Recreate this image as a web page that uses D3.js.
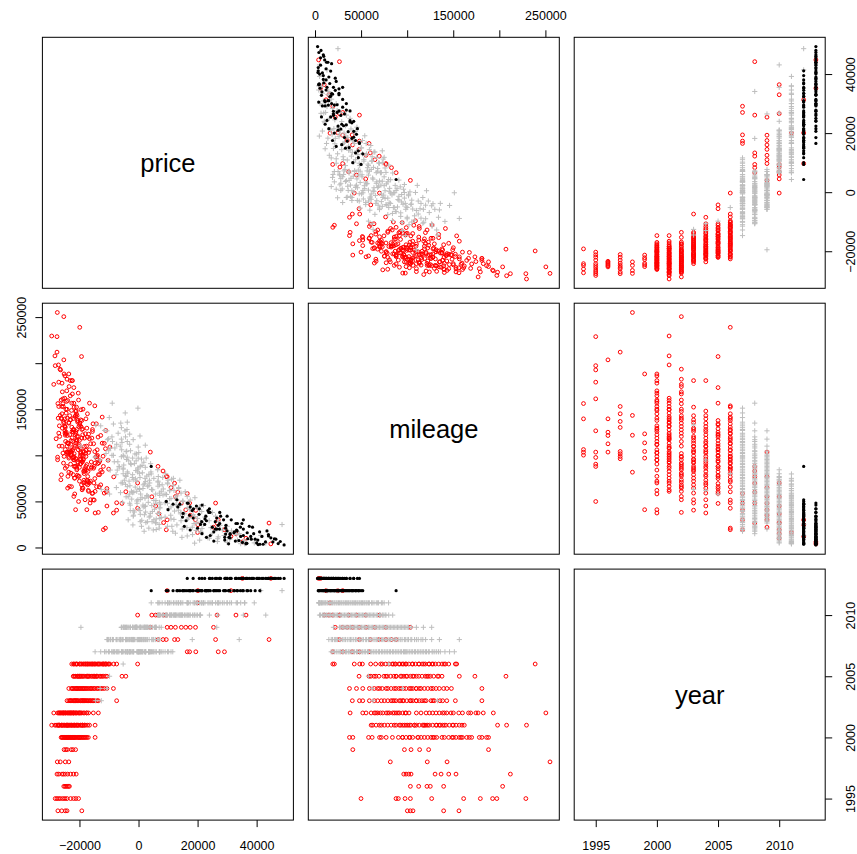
<!DOCTYPE html>
<html>
<head>
<meta charset="utf-8">
<script src="https://cdn.jsdelivr.net/npm/d3@7"></script>
<style>
  body { margin: 0; background: #fff; }
  svg { display: block; font-family: "Liberation Sans", Arial, Helvetica, sans-serif; }
</style>
</head>
<body>
<svg id="chart" width="857" height="854"></svg>
<script>
const vars = ["price", "mileage", "year"];
const priceTicks = [-20000, 0, 20000, 40000];
const mileageTicks = [0, 50000, 100000, 150000, 200000, 250000];
const mileageLabels = [0, 50000, 150000, 250000];
const yearTicks = [1995, 2000, 2005, 2010];

// [year, price, mileage]
const redCars = [
  [1994,-19200,100200],[1994,-24200,103400],[1994,-24800,106300],[1994,-26000,139600],[1994,-27300,156200],
  [1995,-20300,49900],[1995,-21200,87900],[1995,-23000,90400],[1995,-22000,97700],[1995,-24200,103500],[1995,-24900,126600],
  [1995,-25600,161300],[1995,-27000,179400],[1995,-26400,192700],[1995,-28200,197300],[1995,-27600,228800],
  [1996,-23400,103500],[1996,-23700,112500],[1996,-24100,121500],[1996,-24500,125100],[1996,-24900,139600],[1996,-25300,203600],
  [1997,-21100,96300],[1997,-22000,98800],[1997,-24000,101700],[1997,-23000,104200],[1997,-24800,130300],[1997,-25400,136800],
  [1997,-25900,145100],[1997,-27000,153000],[1997,-27600,212000],
  [1998,-27500,255000],[1998,-26500,143300],[1998,-24800,121800],[1998,-23600,81700],
  [1999,-21300,41000],[1999,-22200,97000],[1999,-22800,104200],[1999,-24100,113500],[1999,-24600,123300],[1999,-25200,188300],
  [2000,-14700,37400],[2000,-17500,41000],[2000,-21600,58100],[2000,-18600,70000],[2000,-23900,77200],[2000,-19800,90500],
  [2000,-25200,98800],[2000,-17900,102400],[2000,-22300,106000],[2000,-20100,111500],[2000,-24700,115100],[2000,-19200,118700],
  [2000,-23300,122300],[2000,-21200,125900],[2000,-25800,129500],[2000,-20600,137800],[2000,-24100,140400],[2000,-22700,148700],
  [2000,-18800,150100],[2000,-25500,153000],[2000,-21900,156600],[2000,-24400,158500],[2000,-23100,164600],[2000,-20400,167500],
  [2000,-25900,178300],[2000,-22500,181100],[2000,-24900,186200],[2000,-23600,188300],
  [2000,-19500,95000],[2000,-22900,112000],[2000,-25000,132000],[2000,-18200,84000],[2000,-21000,145000],[2000,-23800,103000],
  [2000,-20000,72000],[2000,-24300,170000],[2000,-22000,128000],[2000,-26200,160000],[2000,-17000,62000],[2000,-21700,95000],
  [2001,-14700,60900],[2001,-19100,62600],[2001,-23400,66300],[2001,-16600,69900],[2001,-21700,75300],[2001,-26100,78900],
  [2001,-18300,82600],[2001,-24300,88000],[2001,-20500,91600],[2001,-27400,95200],[2001,-17800,98800],[2001,-22800,100600],
  [2001,-25600,102400],[2001,-19700,107800],[2001,-23900,113200],[2001,-21100,116800],[2001,-26700,120500],[2001,-18900,122300],
  [2001,-24900,124100],[2001,-22100,127700],[2001,-20200,131300],[2001,-25300,134900],[2001,-23100,138500],[2001,-27200,140300],
  [2001,-21500,142100],[2001,-24500,145800],[2001,-19500,149400],[2001,-26000,153000],[2001,-22600,156600],[2001,-24000,159500],
  [2001,-25000,162000],[2001,-27100,198100],[2001,-28300,207900],[2001,-29400,229500],
  [2001,-17200,72000],[2001,-20900,86000],[2001,-23600,97000],[2001,-25900,110000],[2001,-18400,104000],[2001,-22500,119000],
  [2001,-26800,132000],[2001,-20600,136000],[2001,-24200,150000],[2001,-19000,93000],[2001,-27900,118000],[2001,-21800,108000],
  [2002,-25300,250500],[2002,-26600,193500],[2002,-24200,182600],[2002,-28700,177000],[2002,-23500,174600],[2002,-25800,168900],
  [2002,-22400,166600],[2002,-24600,150100],[2002,-21300,147600],[2002,-26200,140400],[2002,-23000,138500],[2002,-19900,134900],
  [2002,-24900,131300],[2002,-22000,127700],[2002,-27000,124100],[2002,-20800,120500],[2002,-23700,98800],[2002,-18700,95200],
  [2002,-25400,91600],[2002,-21500,88000],[2002,-17600,84300],[2002,-22900,80700],[2002,-20100,77200],[2002,-26300,73500],
  [2002,-19300,68000],[2002,-24000,64400],[2002,-16900,60900],[2002,-21900,55400],[2002,-15300,51800],[2002,-13600,38100],
  [2002,-18300,71000],[2002,-22100,79000],[2002,-24800,86000],[2002,-19600,102000],[2002,-26900,110000],[2002,-21000,115000],
  [2002,-23300,143000],[2002,-17500,90000],[2002,-25600,156000],[2002,-20300,160000],[2002,-27400,98000],[2002,-22700,66000],
  [2003,-23100,181100],[2003,-21800,152300],[2003,-19600,138500],[2003,-23600,135600],[2003,-17500,129500],[2003,-22500,125900],
  [2003,-20400,120500],[2003,-15800,118700],[2003,-21200,113200],[2003,-18300,109600],[2003,-23200,106000],[2003,-16900,103100],
  [2003,-19700,99500],[2003,-22000,95200],[2003,-14700,91600],[2003,-20900,84300],[2003,-18600,82600],[2003,-13600,79000],
  [2003,-21600,75300],[2003,-17200,68000],[2003,-19000,64400],[2003,-15500,59000],[2003,-18100,51800],[2003,-16400,48200],
  [2003,-7400,40500],
  [2003,-17800,88000],[2003,-20600,93000],[2003,-22800,116000],[2003,-15200,86000],[2003,-19200,128000],[2003,-24200,110000],
  [2003,-16300,72000],[2003,-21300,143000],[2003,-14000,96000],[2003,-18800,104000],
  [2004,-22400,181100],[2004,-20800,143100],[2004,-17800,139600],[2004,-23600,134900],[2004,-19500,131300],[2004,-15600,125900],
  [2004,-21400,122300],[2004,-18300,118700],[2004,-12300,113200],[2004,-20100,109600],[2004,-16600,106000],[2004,-22700,102400],
  [2004,-14100,98800],[2004,-19100,93400],[2004,-21800,88000],[2004,-17100,82600],[2004,-13200,79000],[2004,-20400,77200],
  [2004,-15100,70000],[2004,-18800,64400],[2004,-11600,59000],[2004,-16200,51800],[2004,-8500,37400],[2004,-10700,45000],
  [2004,-16000,86000],[2004,-19800,96000],[2004,-22300,115000],[2004,-13800,91000],[2004,-17600,110000],[2004,-20900,128000],
  [2004,-14800,104000],[2004,-18500,73000],[2004,-21100,148000],[2004,-12800,68000],
  [2005,-19300,207200],[2005,-21900,173500],[2005,-16600,156600],[2005,-20600,137800],[2005,-14300,134200],[2005,-18900,128800],
  [2005,-22100,125200],[2005,-12800,121600],[2005,-17300,119800],[2005,-20000,116200],[2005,-15200,112600],[2005,-11200,107200],
  [2005,-19600,103600],[2005,-13900,100000],[2005,-21300,96400],[2005,-16000,92800],[2005,-18200,85600],[2005,-12300,82000],
  [2005,-20700,78400],[2005,-14800,74800],[2005,-17600,69400],[2005,-10700,64000],[2005,-15700,58600],[2005,-5600,47800],
  [2005,-4300,60500],
  [2005,-15000,88000],[2005,-18700,99000],[2005,-21500,110000],[2005,-13100,94000],[2005,-16900,123000],[2005,-19900,133000],
  [2005,-11900,88000],[2005,-17200,77000],[2005,-14200,66000],[2005,-20400,106000],
  [2006,-19900,238900],[2006,-14800,153700],[2006,-21000,152300],[2006,-17300,145100],[2006,-12300,141500],[2006,-19200,137800],
  [2006,-15400,134200],[2006,-22600,130600],[2006,-11100,127000],[2006,-18000,123400],[2006,-13700,119800],[2006,-20800,116200],
  [2006,-16200,112600],[2006,-9700,109000],[2006,-17800,105400],[2006,-21800,101800],[2006,-14500,98200],[2006,-10300,94600],
  [2006,-19500,91000],[2006,-15900,87400],[2006,-12800,83800],[2006,-18400,80200],[2006,-8400,76600],[2006,-16900,71200],
  [2006,-13300,65800],[2006,-10900,60400],[2006,-15000,51400],[2006,-7400,48500],[2006,-300,42600],[2006,-11200,21000],
  [2006,-11900,19300],
  [2006,-14000,106000],[2006,-18700,96000],[2006,-21200,124000],[2006,-12000,99000],[2006,-16600,118000],[2006,-20000,87000],
  [2006,-10100,85000],[2006,-15600,128000],[2006,-13400,92000],[2006,-17400,73000],[2006,-22000,140000],[2006,-11600,113000],
  [2007,29100,19300],[2007,27000,30100],[2007,19400,40300],[2007,17300,48200],[2007,16500,58600],
  [2008,44200,26500],[2008,26100,48200],[2008,13300,60000],[2008,12200,69700],[2008,9400,76900],[2008,8300,83000],[2008,6600,88000],
  [2009,25400,22000],[2009,19300,30000],[2009,17500,35000],[2009,16000,40800],[2009,14500,48000],[2009,12500,55300],
  [2009,11000,65000],[2009,9700,76900],[2009,4000,103500],
  [2010,36400,10000],[2010,33000,15000],[2010,26600,26500],[2010,9400,19200],[2010,8500,27000],[2010,6900,36500],
  [2010,5800,45000],[2010,4500,55000],[2010,-300,70000],
  [2011,20000,16300],
  [2012,20100,24700],[2012,31300,12000],[2012,9700,30000],
  [2013,44800,3900],[2013,35200,6000]
];

const grayCars = [
  [2003,-14500,133000],[2003,-12600,63000],[2004,-10700,62000],[2004,-13000,95000],[2005,-9800,58000],[2006,-5200,80000],
  [2007,11600,17600],[2007,3500,21000],[2007,7000,25000],[2007,600,28000],[2007,11000,31000],[2007,3900,34000],
  [2007,7100,37000],[2007,-1800,40000],[2007,7300,43000],[2007,1500,46000],[2007,7100,49000],[2007,-200,52000],
  [2007,3400,55000],[2007,-3000,58000],[2007,7700,61000],[2007,300,64000],[2007,3500,67000],[2007,-5400,70000],
  [2007,3700,73000],[2007,-2100,76000],[2007,3500,79000],[2007,-3800,82000],[2007,-200,85000],[2007,-6600,88000],
  [2007,4100,91000],[2007,-3300,94000],[2007,-100,97000],[2007,-9000,100000],[2007,100,103000],[2007,-5700,106000],
  [2007,-100,109000],[2007,-7400,112000],[2007,-3800,115000],[2007,-10200,118000],[2007,500,121000],[2007,-6900,124000],
  [2007,-3900,128000],[2007,-12800,132000],[2007,-3800,136000],[2007,-9900,141000],[2007,-4500,146000],[2007,-200,151200],
  [2007,-14700,98000],
  [2007,6000,19500],[2007,9800,23000],[2007,2500,27000],[2007,5200,30000],[2007,9000,33000],[2007,600,36000],
  [2007,4700,39000],[2007,10200,42000],[2007,2400,45000],[2007,-3000,48000],[2007,5900,51000],[2007,1200,54000],
  [2007,8300,57000],[2007,-1600,60000],[2007,4400,63000],[2007,-3800,66000],[2007,2000,69000],[2007,-600,72000],
  [2007,5200,75000],[2007,-4400,78000],[2007,1300,81000],[2007,-7200,84000],[2007,2300,87000],[2007,-2500,90000],
  [2007,-8200,93000],[2007,1000,96000],[2007,-5000,99000],[2007,-11000,102000],[2007,-2700,105000],[2007,-8000,108000],
  [2007,2300,111000],[2007,-5600,114000],[2007,-1800,117000],[2007,-9000,120000],[2007,-3000,123000],[2007,-11500,127000],
  [2007,-5800,130000],[2007,-8500,134000],
  [2008,34100,15000],[2008,18200,22000],[2008,1900,17600],[2008,7000,21000],[2008,-1900,24500],[2008,4600,28000],
  [2008,7200,31500],[2008,-1700,35000],[2008,2400,38500],[2008,0,42000],[2008,4500,45500],[2008,-5400,49000],
  [2008,-2300,52500],[2008,2800,56000],[2008,-6100,59500],[2008,400,63000],[2008,3000,66500],[2008,-5900,70000],
  [2008,-1800,73500],[2008,-4200,77000],[2008,300,80500],[2008,-9600,84000],[2008,-6500,87500],[2008,-1400,91000],
  [2008,-10300,94500],[2008,-3800,98000],[2008,-1200,101500],[2008,-10100,105000],[2008,-6200,110000],[2008,-8800,115000],
  [2008,-4400,120000],[2008,-10700,126600],[2008,-8900,156600],[2008,-6000,135000],
  [2008,5000,19000],[2008,1000,23000],[2008,5800,27000],[2008,-3500,30000],[2008,3600,33000],[2008,6500,37000],
  [2008,-2800,40000],[2008,1600,44000],[2008,-500,48000],[2008,5200,51000],[2008,-4200,55000],[2008,700,58000],
  [2008,-2400,61000],[2008,-7500,65000],[2008,1600,68000],[2008,-3200,72000],[2008,2200,75000],[2008,-7600,79000],
  [2008,-300,82000],[2008,-5200,86000],[2008,1200,89000],[2008,-7000,93000],[2008,-2000,97000],[2008,-8500,100000],
  [2008,-4200,104000],[2008,-9500,108000],[2008,-3000,112000],[2008,-10500,117000],
  [2009,26500,20000],[2009,5900,26500],[2009,1100,29500],[2009,7700,32500],[2009,2000,35500],[2009,-1400,38500],
  [2009,5400,41500],[2009,2100,44500],[2009,5800,47500],[2009,-600,50500],[2009,2200,53500],[2009,2900,56500],
  [2009,-2000,59500],[2009,4800,62500],[2009,-1100,65500],[2009,-4400,68500],[2009,2400,71500],[2009,-1000,74500],
  [2009,2800,77500],[2009,-3600,80500],[2009,-900,83500],[2009,-200,86500],[2009,-5000,89500],[2009,1800,92500],
  [2009,-4100,95500],[2009,-5800,98500],[2009,-700,101500],[2009,-4000,104500],[2009,-5800,117600],[2009,-4600,126600],
  [2009,-19500,110000],
  [2009,3000,28000],[2009,6000,31000],[2009,-1800,34000],[2009,4000,37000],[2009,500,40000],[2009,7000,43000],
  [2009,-2800,46000],[2009,3300,49000],[2009,600,52000],[2009,-3500,55000],[2009,5800,58000],[2009,-600,61000],
  [2009,1500,64000],[2009,-2900,67000],[2009,3800,70000],[2009,-4800,73000],[2009,500,76000],[2009,-2000,79000],
  [2009,4200,82000],[2009,-5200,85000],[2009,600,88000],[2009,-2700,91000],[2009,-800,94000],[2009,2600,97000],
  [2009,-5200,100000],
  [2010,43100,4900],[2010,35500,6000],[2010,26800,9500],[2010,20700,8000],[2010,14700,11000],[2010,18300,14000],
  [2010,21000,17000],[2010,14800,20000],[2010,11300,23000],[2010,18800,26000],[2010,14400,29000],[2010,16900,32000],
  [2010,10900,35000],[2010,14400,38000],[2010,17400,41000],[2010,11000,44000],[2010,7500,47000],[2010,15000,50000],
  [2010,10500,53000],[2010,13000,56000],[2010,7100,59000],[2010,10600,62000],[2010,13600,65000],[2010,7100,68000],
  [2010,6600,71000],[2010,11200,74000],[2010,6700,77000],[2010,9200,80000],[2010,6500,84300],
  [2010,24000,10000],[2010,16500,12500],[2010,12500,15500],[2010,19500,18500],[2010,16400,21500],[2010,13000,24500],
  [2010,21000,27500],[2010,12000,30500],[2010,19000,33500],[2010,15600,36500],[2010,12200,39500],[2010,20000,42500],
  [2010,14000,45500],[2010,9000,48500],[2010,17500,51500],[2010,12500,54500],[2010,9500,57500],[2010,15800,60500],
  [2010,8400,63500],[2010,11800,67000],[2010,9800,70000],[2010,14000,73000],[2010,8200,76000],
  [2011,39200,5000],[2011,35900,7000],[2011,36000,4000],[2011,19000,4700],
  [2011,34600,4100],[2011,26700,6500],[2011,30900,9000],[2011,27000,11500],[2011,33100,14000],[2011,21200,16500],
  [2011,28400,19000],[2011,24500,21500],[2011,27600,24000],[2011,19700,26500],[2011,23900,29000],[2011,20000,31500],
  [2011,26100,34000],[2011,14200,36500],[2011,21400,39000],[2011,17500,41500],[2011,20600,44000],[2011,12700,46500],
  [2011,16900,49000],[2011,13000,51500],[2011,19100,54000],[2011,7200,56500],[2011,14400,59000],[2011,10500,61500],
  [2011,13600,64000],[2011,6600,66500],[2011,9900,69000],[2011,6600,72000],[2011,11800,75000],[2011,4300,79800],
  [2011,30000,5500],[2011,33500,8000],[2011,23500,10500],[2011,29000,13000],[2011,25000,15500],[2011,31500,18000],
  [2011,21500,20500],[2011,30000,23000],[2011,22000,25500],[2011,27000,28000],[2011,16500,30500],[2011,22500,33000],
  [2011,18500,35500],[2011,25000,38000],[2011,13500,40500],[2011,16500,43000],[2011,22000,45500],[2011,9800,48000],
  [2011,15000,50500],[2011,11000,53000],[2011,16500,55500],[2011,9000,58000],[2011,12000,62000],[2011,8000,68000],
  [2011,10000,73000],
  [2012,48600,24900],[2012,41400,13000]
];

const blackCars = [
  [2012,41100,3500],[2012,38000,12000],[2012,35200,5500],[2012,39500,9000],[2012,33400,18000],[2012,36700,4500],
  [2012,31000,14000],[2012,34500,22000],[2012,29200,8000],[2012,32300,16000],[2012,27500,26000],[2012,30600,11000],
  [2012,26000,20000],[2012,28800,30000],[2012,24300,13000],[2012,27000,24000],[2012,22800,34000],[2012,25500,17000],
  [2012,21400,28000],[2012,23800,38000],[2012,20000,21000],[2012,22500,31000],[2012,18600,42000],[2012,21000,25000],
  [2012,17300,35000],[2012,19600,45000],[2012,16100,29000],[2012,18200,40000],[2012,14900,33000],[2012,16800,48000],
  [2012,13300,44000],[2012,15100,37000],[2012,11700,47000],[2012,9400,50000],[2012,13000,51800],[2012,4300,88000],
  [2012,10000,41000],
  [2012,30500,4000],[2012,25500,7000],[2012,37000,9500],[2012,23000,11000],[2012,35500,13000],[2012,21500,15000],
  [2012,32500,17000],[2012,17500,19000],[2012,29500,21000],[2012,15500,23000],[2012,33500,26000],[2012,23000,29000],
  [2012,26500,32000],[2012,20500,36000],[2012,23500,40000],[2012,17500,44000],[2012,14000,47000],
  [2013,49300,2800],[2013,46000,9500],[2013,47300,4200],[2013,44000,14000],[2013,45500,6000],[2013,42200,3500],
  [2013,43500,18000],[2013,40400,8000],[2013,41800,12000],[2013,38600,22000],[2013,40000,5000],[2013,36800,16000],
  [2013,38200,9000],[2013,35000,26000],[2013,36400,4000],[2013,33200,19000],[2013,34600,12000],[2013,31400,30000],
  [2013,32800,7000],[2013,29600,24000],[2013,31000,15000],[2013,27800,34000],[2013,29200,11000],[2013,26000,28000],
  [2013,27400,20000],[2013,24200,38000],[2013,22400,25000],[2013,20600,42000],[2013,18500,32000],[2013,16500,48200],
  [2013,48000,6500],[2013,44800,10500],[2013,39000,15000],[2013,35500,20000],[2013,30000,18000],[2013,25000,22000],
  [2013,40500,3200],[2013,36500,4500],[2013,43000,6000],[2013,34000,7500],[2013,46500,9000],[2013,31000,10500],
  [2013,44000,12500],[2013,29500,14500],[2013,41000,17000],[2013,26500,20000],[2013,37500,23000],[2013,33000,26000],
  [2013,35500,30000],[2013,30000,34000],[2013,27500,38000],[2013,24000,42000],[2013,21500,46000]
];

const toCar = grp => d => ({year: d[0], price: d[1], mileage: d[2], grp: grp});
const cars = [
  ...redCars.map(toCar("red")),
  ...grayCars.map(toCar("gray")),
  ...blackCars.map(toCar("black"))
];

// panel layout
const S = 251, pitch = 265.9, left0 = 42.4, top0 = 37.3;
const lefts = vars.map((v, j) => left0 + j * pitch);
const tops = vars.map((v, i) => top0 + i * pitch);

// R style ranges: data extent + 4%
const domains = {};
vars.forEach(v => {
  const [lo, hi] = d3.extent(cars, d => d[v]);
  const pad = (hi - lo) * 0.04;
  domains[v] = [lo - pad, hi + pad];
});
const xs = vars.map((v, j) => d3.scaleLinear().domain(domains[v]).range([lefts[j], lefts[j] + S]));
const ys = vars.map((v, i) => d3.scaleLinear().domain(domains[v]).range([tops[i] + S, tops[i]]));

const svg = d3.select("#chart");
const fmt = d => (d < 0 ? "\u2212" + Math.abs(d) : String(d));

vars.forEach((vy, i) => {
  vars.forEach((vx, j) => {
    const g = svg.append("g");
    if (i === j) {
      g.append("text")
        .attr("x", lefts[j] + S / 2)
        .attr("y", tops[i] + S / 2)
        .attr("dy", "0.35em")
        .attr("text-anchor", "middle")
        .attr("font-size", "25.5px")
        .text(vy);
    } else {
      const pts = g.selectAll("g.pt")
        .data(cars)
        .join("g")
        .attr("class", "pt")
        .attr("transform", d => `translate(${xs[j](d[vx])},${ys[i](d[vy])})`);
      pts.filter(d => d.grp === "red").append("circle")
        .attr("r", 1.9)
        .attr("fill", "none")
        .attr("stroke", "#FF0000")
        .attr("stroke-width", 1);
      pts.filter(d => d.grp === "gray").append("path")
        .attr("d", "M-2.6,0H2.6M0,-2.6V2.6")
        .attr("stroke", "#BEBEBE")
        .attr("stroke-width", 1);
      pts.filter(d => d.grp === "black").append("circle")
        .attr("r", 1.6)
        .attr("fill", "#000");
    }
    g.append("rect")
      .attr("x", lefts[j])
      .attr("y", tops[i])
      .attr("width", S)
      .attr("height", S)
      .attr("fill", "none")
      .attr("stroke", "#000")
      .attr("stroke-width", 1);
  });
});

// axes
function styleAxis(g) {
  g.select(".domain").remove();
  g.selectAll(".tick line").attr("stroke", "#000");
  g.selectAll(".tick text").attr("fill", "#000").attr("font-size", "12.5px")
    .attr("font-family", '"Liberation Sans", Arial, Helvetica, sans-serif');
}

// top: mileage
svg.append("g")
  .attr("transform", `translate(0,${tops[0]})`)
  .call(d3.axisTop(xs[1]).tickValues(mileageTicks).tickSize(7).tickSizeOuter(0).tickPadding(10.5)
    .tickFormat(d => mileageLabels.includes(d) ? fmt(d) : ""))
  .call(styleAxis);

// bottom: price and year
svg.append("g")
  .attr("transform", `translate(0,${tops[2] + S})`)
  .call(d3.axisBottom(xs[0]).tickValues(priceTicks).tickSize(7).tickSizeOuter(0).tickPadding(14.5).tickFormat(fmt))
  .call(styleAxis);
svg.append("g")
  .attr("transform", `translate(0,${tops[2] + S})`)
  .call(d3.axisBottom(xs[2]).tickValues(yearTicks).tickSize(7).tickSizeOuter(0).tickPadding(14.5).tickFormat(fmt))
  .call(styleAxis);

// left: mileage (rotated labels)
svg.append("g")
  .attr("transform", `translate(${lefts[0]},0)`)
  .call(d3.axisLeft(ys[1]).tickValues(mileageTicks).tickSize(7).tickSizeOuter(0)
    .tickFormat(d => mileageLabels.includes(d) ? fmt(d) : ""))
  .call(styleAxis)
  .call(g => g.selectAll(".tick text")
    .attr("transform", "rotate(-90)")
    .attr("x", 0).attr("y", -21).attr("dy", "0.35em")
    .attr("text-anchor", "middle"));

// right: price (row 1) and year (row 3)
[[0, priceTicks], [2, yearTicks]].forEach(([row, ticks]) => {
  svg.append("g")
    .attr("transform", `translate(${lefts[2] + S},0)`)
    .call(d3.axisRight(ys[row]).tickValues(ticks).tickSize(7).tickSizeOuter(0).tickFormat(fmt))
    .call(styleAxis)
    .call(g => g.selectAll(".tick text")
      .attr("transform", "rotate(-90)")
      .attr("x", 0).attr("y", 25).attr("dy", "0.35em")
      .attr("text-anchor", "middle"));
});
</script>
</body>
</html>
